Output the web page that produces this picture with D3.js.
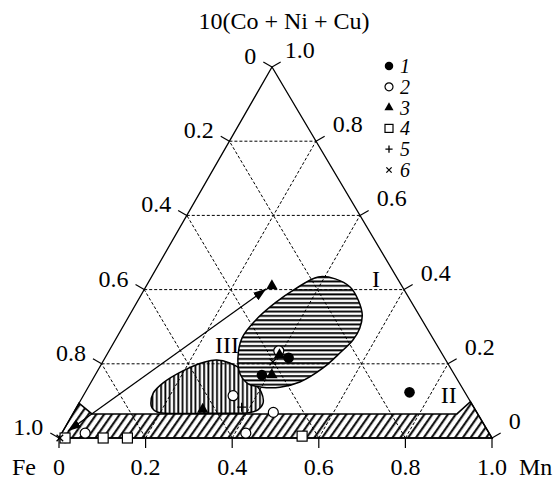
<!DOCTYPE html>
<html lang="en">
<head>
<meta charset="UTF-8">
<title>Ternary diagram Fe - Mn - 10(Co+Ni+Cu)</title>
<script src="https://d3js.org/d3.v7.min.js"></script>
<style>
    body { margin: 0; background: #fff; }
    text { font-family: "Liberation Serif", "Times New Roman", Times, serif; fill: #000; }
    .grid { stroke: #000; stroke-width: 1; stroke-dasharray: 3,2; fill: none; }
    .frame { stroke: #000; stroke-width: 1.3; fill: none; }
    .tick { stroke: #000; stroke-width: 1.2; }
</style>
</head>
<body>
<svg width="555" height="480"></svg>
<script>
    // ternary values are [Mn, 10(Co+Ni+Cu)] fractions, Fe = 1 - Mn - Co
    const tickValues = [0, 0.2, 0.4, 0.6, 0.8, 1.0];
    const gridValues = [0.2, 0.4, 0.6, 0.8];

    const series1 = [[0.014, 0.0], [0.424, 0.216], [0.385, 0.170], [0.749, 0.123]];           // filled circles
    const series2 = [[0.054, 0.013], [0.346, 0.114], [0.425, 0.013], [0.461, 0.069], [0.392, 0.235]]; // open circles
    const series3 = [[0.290, 0.410], [0.399, 0.224], [0.408, 0.170], [0.294, 0.077]];          // triangles
    const series4 = [[0.014, 0.0], [0.102, 0.0], [0.158, 0.0], [0.559, 0.005]];                // squares
    const series5 = [[0.381, 0.083]];                                                           // plus
    const series6 = [[0.393, 0.205], [0.002, 0.0]];                                             // cross

    const regionI = [[0.385, 0.434], [0.427, 0.429], [0.472, 0.407], [0.508, 0.372], [0.537, 0.332],
        [0.549, 0.296], [0.549, 0.264], [0.536, 0.229], [0.517, 0.189], [0.482, 0.151], [0.443, 0.137],
        [0.401, 0.137], [0.365, 0.146], [0.333, 0.173], [0.307, 0.216], [0.290, 0.270], [0.297, 0.315],
        [0.320, 0.364], [0.348, 0.402]];
    const regionII = [[0, 0], [0, 0.094], [0.044, 0.065], [0.887, 0.065], [0.902, 0.098], [1, 0]];
    const regionIII = [[0.167, 0.092], [0.158, 0.121], [0.167, 0.148], [0.197, 0.181], [0.236, 0.205],
        [0.261, 0.210], [0.295, 0.202], [0.333, 0.183], [0.374, 0.151], [0.406, 0.124], [0.425, 0.094],
        [0.422, 0.076], [0.407, 0.069], [0.309, 0.067], [0.192, 0.070], [0.175, 0.081]];
    const trendArrow = [[0.0115, 0.019], [0.281, 0.402]];

    const regionLabels = [
        { text: "I", m: 0.532, c: 0.407 },
        { text: "II", m: 0.854, c: 0.094 },
        { text: "III", m: 0.275, c: 0.230 }
    ];
    const legendLabels = ["1", "2", "3", "4", "5", "6"];

    const svg = d3.select("svg");

    // triangle corners
    const feX = 59, mnX = 492, baseY = 438, apexX = 272, apexY = 67;
    const x = d3.scaleLinear().domain([0, 1]).range([feX, mnX]);
    const y = d3.scaleLinear().domain([0, 1]).range([baseY, apexY]);
    const skew = (apexX - feX) / (mnX - feX);
    const pt = (m, c) => [x(m + c * skew), y(c)];

    // hatch patterns
    const defs = svg.append("defs");
    function hatch(id, w, h, x1, y1, x2, y2, rot, sw) {
        const p = defs.append("pattern").attr("id", id)
            .attr("patternUnits", "userSpaceOnUse")
            .attr("width", w).attr("height", h);
        if (rot) p.attr("patternTransform", `rotate(${rot})`);
        p.append("rect").attr("width", w).attr("height", h).attr("fill", "#fff");
        p.append("line").attr("x1", x1).attr("y1", y1).attr("x2", x2).attr("y2", y2)
            .attr("stroke", "#000").attr("stroke-width", sw);
    }
    hatch("hor", 10, 4.3, 0, 2, 10, 2, 0, 1.9);
    hatch("ver", 4.3, 10, 2, 0, 2, 10, 0, 1.8);
    hatch("diag", 6.4, 10, 3, 0, 3, 10, 35, 2);

    defs.append("marker").attr("id", "arr")
        .attr("viewBox", "0 0 10 10").attr("refX", 10).attr("refY", 5)
        .attr("markerWidth", 13).attr("markerHeight", 13)
        .attr("markerUnits", "userSpaceOnUse")
        .attr("orient", "auto-start-reverse")
        .append("path").attr("d", "M0,1.5 L10,5 L0,8.5 Z").attr("fill", "#000");

    const smooth = d3.line().x(d => pt(d[0], d[1])[0]).y(d => pt(d[0], d[1])[1])
        .curve(d3.curveCatmullRomClosed.alpha(0.5));
    const straight = d3.line().x(d => pt(d[0], d[1])[0]).y(d => pt(d[0], d[1])[1]);

    svg.append("path").attr("d", smooth(regionIII))
        .attr("fill", "url(#ver)").attr("stroke", "#000").attr("stroke-width", 1.5);
    svg.append("path").attr("d", smooth(regionI))
        .attr("fill", "url(#hor)").attr("stroke", "#000").attr("stroke-width", 1.5);
    svg.append("path").attr("d", straight(regionII) + "Z")
        .attr("fill", "url(#diag)").attr("stroke", "#000").attr("stroke-width", 1.5);

    // dashed grid
    const grid = svg.append("g");
    gridValues.forEach(k => {
        const segs = [
            [pt(0, k), pt(1 - k, k)],        // constant Co
            [pt(k, 0), pt(k, 1 - k)],        // constant Mn
            [pt(1 - k, 0), pt(0, 1 - k)]     // constant Fe
        ];
        segs.forEach(s => grid.append("line").attr("class", "grid")
            .attr("x1", s[0][0]).attr("y1", s[0][1]).attr("x2", s[1][0]).attr("y2", s[1][1]));
    });

    // frame
    svg.append("path").attr("class", "frame")
        .attr("d", straight([[0, 0], [1, 0], [0, 1]]) + "Z");

    // ticks and labels
    const tl = 10, c30 = Math.cos(Math.PI / 6), s30 = 0.5;
    const axes = svg.append("g").attr("font-size", 24);
    tickValues.forEach(v => {
        // bottom axis: Mn
        const b = pt(v, 0);
        axes.append("line").attr("class", "tick")
            .attr("x1", b[0]).attr("y1", b[1]).attr("x2", b[0]).attr("y2", b[1] + tl);
        axes.append("text").attr("x", b[0]).attr("y", 475).attr("text-anchor", "middle")
            .text(v === 0 ? "0" : v.toFixed(1));
        // left axis: Fe
        const l = pt(0, v);
        const le = [l[0] - tl * c30, l[1] - tl * s30];
        axes.append("line").attr("class", "tick")
            .attr("x1", l[0]).attr("y1", l[1]).attr("x2", le[0]).attr("y2", le[1]);
        const fe = 1 - v;
        axes.append("text").attr("x", le[0] - 7).attr("y", le[1] + 2).attr("text-anchor", "end")
            .text(fe < 1e-9 ? "0" : fe.toFixed(1));
        // right axis: 10(Co+Ni+Cu)
        const r = pt(1 - v, v);
        const re = [r[0] + tl * c30, r[1] - tl * s30];
        axes.append("line").attr("class", "tick")
            .attr("x1", r[0]).attr("y1", r[1]).attr("x2", re[0]).attr("y2", re[1]);
        axes.append("text").attr("x", re[0] + (v === 1 ? 4 : 8)).attr("y", re[1] - 4)
            .text(v === 0 ? "0" : v.toFixed(1));
    });

    axes.append("text").attr("x", 12).attr("y", 475).text("Fe");
    axes.append("text").attr("x", 519).attr("y", 475).text("Mn");
    axes.append("text").attr("x", 284).attr("y", 29).attr("text-anchor", "middle")
        .text("10(Co + Ni + Cu)");

    // trend arrow
    const a0 = pt(...trendArrow[0]), a1 = pt(...trendArrow[1]);
    svg.append("line").attr("x1", a0[0]).attr("y1", a0[1]).attr("x2", a1[0]).attr("y2", a1[1])
        .attr("stroke", "#000").attr("stroke-width", 1.3)
        .attr("marker-start", "url(#arr)").attr("marker-end", "url(#arr)");

    // region labels
    svg.append("g").selectAll("text").data(regionLabels).join("text")
        .attr("x", d => pt(d.m, d.c)[0]).attr("y", d => pt(d.m, d.c)[1])
        .attr("text-anchor", "middle").attr("font-size", 24)
        .text(d => d.text);

    // marker drawing
    function drawMarker(g, kind, s) {
        if (kind === 1) {
            g.append("circle").attr("r", 5.3 * s).attr("fill", "#000");
        } else if (kind === 2) {
            g.append("circle").attr("r", 5 * s).attr("fill", "#fff").attr("stroke", "#000").attr("stroke-width", 1.2);
        } else if (kind === 3) {
            g.append("path").attr("d", d3.symbol(d3.symbolTriangle, 56 * s * s)()).attr("fill", "#000");
        } else if (kind === 4) {
            g.append("rect").attr("x", -5 * s).attr("y", -5 * s)
                .attr("width", 10 * s).attr("height", 10 * s)
                .attr("fill", "#fff").attr("stroke", "#000").attr("stroke-width", 1.2);
        } else if (kind === 5) {
            g.append("path").attr("d", `M${-4.5 * s},0H${4.5 * s}M0,${-4.5 * s}V${4.5 * s}`)
                .attr("stroke", "#000").attr("stroke-width", 1.3);
        } else {
            g.append("path").attr("d", `M${-3.3 * s},${-3.3 * s}L${3.3 * s},${3.3 * s}M${-3.3 * s},${3.3 * s}L${3.3 * s},${-3.3 * s}`)
                .attr("stroke", "#000").attr("stroke-width", 1.3);
        }
    }

    const allSeries = [series1, series2, series3, series4, series5, series6];
    const pts = svg.append("g");
    allSeries.forEach((ser, i) => {
        ser.forEach(d => {
            const p = pt(d[0], d[1]);
            drawMarker(pts.append("g").attr("transform", `translate(${p[0]},${p[1]})`), i + 1, 1);
        });
    });

    // legend
    const legend = svg.append("g").attr("transform", "translate(389,66)");
    legendLabels.forEach((lab, i) => {
        const row = legend.append("g").attr("transform", `translate(0,${i * 20.8})`);
        drawMarker(row, i + 1, 0.8);
        row.append("text").attr("x", 11).attr("y", 7).attr("font-size", 20)
            .attr("font-style", "italic").text(lab);
    });
</script>
</body>
</html>
